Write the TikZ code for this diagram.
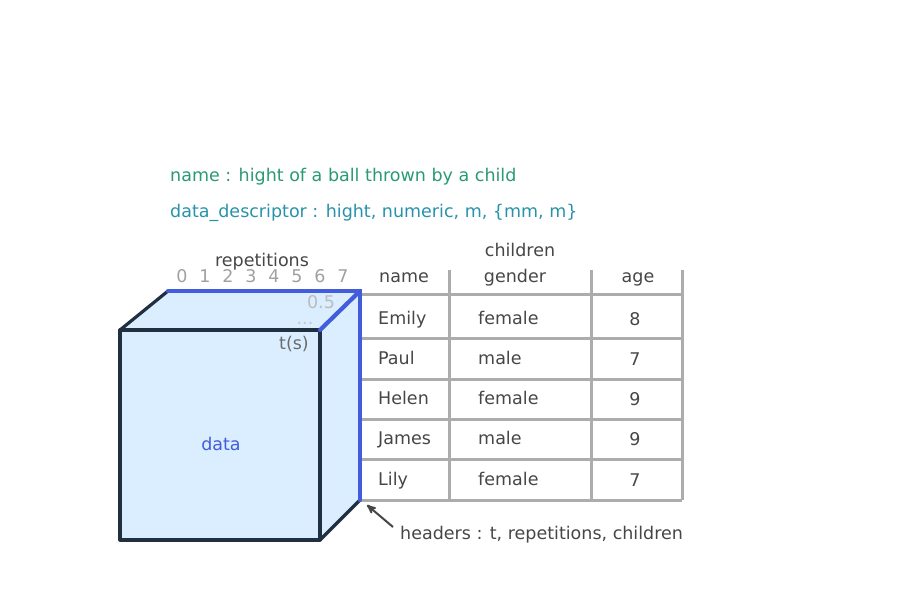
\documentclass[tikz,border=0pt]{standalone}
\usepackage{fontspec}
\setmainfont{DejaVu Sans}
\usetikzlibrary{positioning, arrows}
\definecolor{namegreen}{RGB}{42,154,112}
\definecolor{descteal}{RGB}{40,146,170}
\definecolor{textgray}{RGB}{70,70,70}
\definecolor{tickgray}{RGB}{160,160,160}
\definecolor{linegray}{RGB}{172,172,172}
\definecolor{cubefill}{RGB}{218,238,255}
\definecolor{cubeblue}{RGB}{66,92,220}
\definecolor{cubeedge}{RGB}{32,48,64}
\tikzset{
x=1pt, y=-1pt, % one unit is one pixel of the picture
>=stealth', % arrow heads
every node/.style={font=\fontsize{17.5}{20}\selectfont, text=textgray, inner sep=0pt,
    text height=17.4pt, text depth=5pt}, % all the labels, same centre line for all
cell/.style={anchor=west}, % text in a table cell
grid/.style={draw=linegray, line width=3pt}, % lines of the table
edge/.style={draw=cubeedge, line width=3.2pt, line join=round}, % black edges of the cube
blueedge/.style={draw=cubeblue, line width=4.2pt, line cap=round}, % blue edges of the cube
}
\begin{document}
\begin{tikzpicture}
\useasboundingbox (0,0) rectangle (900,600);

% the cube
\coordinate (fa) at (120,330);
\coordinate (fb) at (320,330);
\coordinate (fc) at (320,540);
\coordinate (fd) at (120,540);
\coordinate (ba) at (168,291);
\coordinate (bb) at (360,291);
\coordinate (bc) at (360,500);
\fill[cubefill] (fa) -- (ba) -- (bb) -- (bc) -- (fc) -- (fd) -- cycle;
\draw[edge] (fa) rectangle (fc);
\draw[edge] (fa) -- (ba);
\draw[edge] (fc) -- (bc);
\draw[blueedge] (ba) -- (bb) -- (bc);
\draw[blueedge] (fb) -- (bb);

% labels on the cube
\node (data) at (221,444) {\textcolor{cubeblue}{data}};
\node[text=textgray!80] (ts) at (294,343) {t(s)};
\node[text=tickgray!70] (half) at (321,302) {0.5};
\node[text=tickgray!60] (dots) at (305,318) {...};
\node (reps) at (262,260) {repetitions};
\foreach \i in {0,...,7}
    \node[text=tickgray] (rep\i) at (182+23*\i,276) {\i};

% the table
\foreach \y in {294,338,379,419,459,500}
    \draw[grid] (360,\y) -- (682,\y);
\foreach \x in {449,591,682}
    \draw[grid] (\x,270) -- (\x,500);
\draw[blueedge] (bb) -- (bc);

\node (children) at (520,250) {children};
\node (hname) at (404,276) {name};
\node (hgender) at (515,276) {gender};
\node (hage) at (638,276) {age};

\foreach \n/\g/\a [count=\r from 0] in {Emily/female/8, Paul/male/7, Helen/female/9, James/male/9, Lily/female/7}
{
    \node[cell] (name\r) at (378,318+40.2*\r) {\n};
    \node[cell] (gender\r) at (478,318+40.2*\r) {\g};
    \node (age\r) at (635,319+40.2*\r) {\a};
}

% descriptions
\node[anchor=west, text=namegreen] (title) at (170,175) {name : hight of a ball thrown by a child};
\node[anchor=west, text=descteal] (desc) at (170,211) {data\_descriptor : hight, numeric, m, \{mm, m\}};
\node[anchor=west] (headers) at (400,533) {headers : t, repetitions, children};
\coordinate (corner) at (367,505);
\draw[->, draw=textgray, line width=2pt] (393,527) -- (corner);
\end{tikzpicture}
\end{document}
